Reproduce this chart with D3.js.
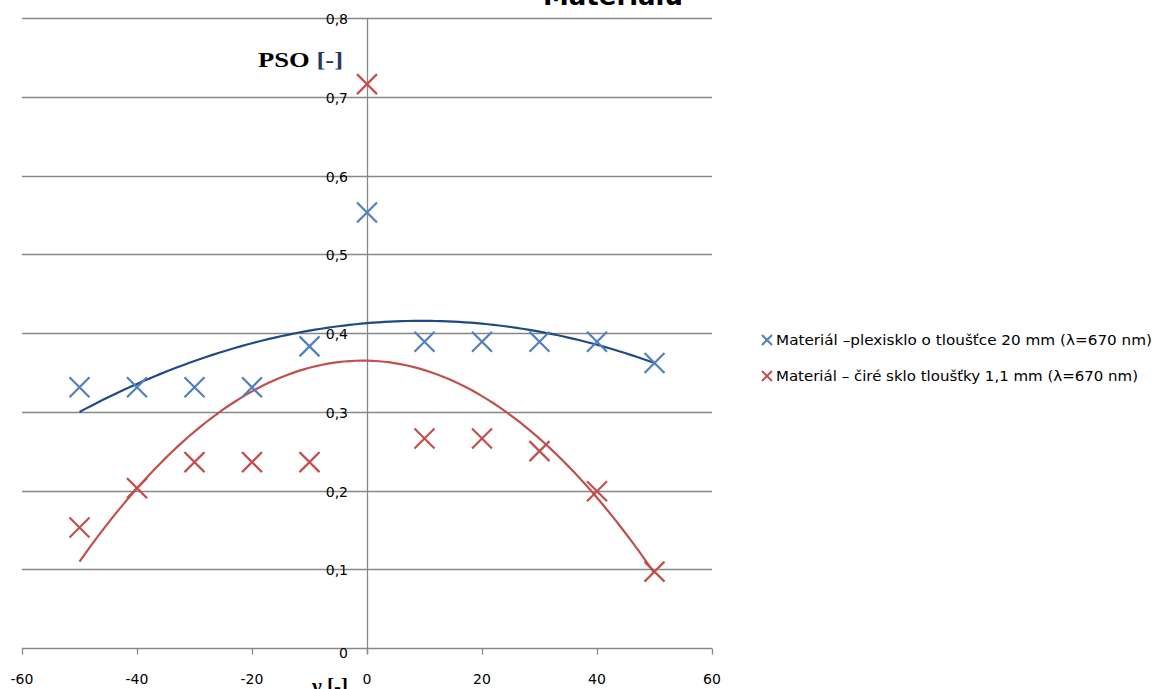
<!DOCTYPE html>
<html>
<head>
<meta charset="utf-8">
<script src="https://cdn.jsdelivr.net/npm/d3@7"></script>
<style>
  body { margin: 0; background: #fff; }
  svg { display: block; font-family: "DejaVu Sans", Verdana, sans-serif; }
</style>
</head>
<body>
<div id="chart"></div>
<script>
var svgWidth = 1153;
var svgHeight = 689;

// data
var angles = [-50, -40, -30, -20, -10, 0, 10, 20, 30, 40, 50];
var plexiValues = [0.331, 0.331, 0.331, 0.331, 0.383, 0.553, 0.389, 0.389, 0.389, 0.389, 0.362];
var glassValues = [0.153, 0.203, 0.236, 0.236, 0.236, 0.716, 0.266, 0.266, 0.250, 0.199, 0.097];
var xTicks = [-60, -40, -20, 0, 20, 40, 60];
var yTicks = [0, 0.1, 0.2, 0.3, 0.4, 0.5, 0.6, 0.7, 0.8];
var seriesNames = [
	"Materiál \u2013plexisklo o tloušťce 20 mm  (λ=670 nm)",
	"Materiál \u2013 čiré sklo tloušťky 1,1 mm  (λ=670 nm)"
];

var svg = d3.select("#chart")
	.append("svg")
	.attr("width", svgWidth)
	.attr("height", svgHeight);

var x = d3.scaleLinear().domain([-60, 60]).range([22, 712]);
var y = d3.scaleLinear().domain([0, 0.8]).range([648, 18]);

var fmt = function(d) { return d === 0 ? "0" : d3.format(".1f")(d).replace(".", ","); };

// gridlines
svg.append("g")
	.selectAll("line")
	.data(yTicks)
	.enter()
	.append("line")
	.attr("x1", x(-60))
	.attr("x2", x(60))
	.attr("y1", d => Math.round(y(d)) + 0.5)
	.attr("y2", d => Math.round(y(d)) + 0.5)
	.attr("stroke", "#878787")
	.attr("stroke-width", 1.3);

// x axis with ticks downward
var xAxis = svg.append("g")
	.attr("transform", `translate(0, ${Math.round(y(0)) + 0.5})`)
	.call(d3.axisBottom(x).tickValues(xTicks).tickSize(6).tickSizeOuter(0).tickFormat(""));
xAxis.select(".domain").remove();
xAxis.selectAll("line").attr("stroke", "#878787").attr("stroke-width", 1.3);

svg.append("g")
	.selectAll("text")
	.data(xTicks)
	.enter()
	.append("text")
	.attr("x", d => x(d))
	.attr("y", 684)
	.attr("text-anchor", "middle")
	.attr("font-size", 14)
	.attr("fill", "#000")
	.text(d => d);

// y axis at x = 0
svg.append("line")
	.attr("x1", Math.round(x(0)) + 0.5)
	.attr("x2", Math.round(x(0)) + 0.5)
	.attr("y1", y(0.8))
	.attr("y2", y(0) + 6)
	.attr("stroke", "#878787")
	.attr("stroke-width", 1.3);

svg.append("g")
	.selectAll("text")
	.data(yTicks)
	.enter()
	.append("text")
	.attr("x", 348)
	.attr("y", d => y(d) + (d === 0 ? 10 : 6))
	.attr("text-anchor", "end")
	.attr("font-size", 14)
	.attr("fill", "#000")
	.text(d => fmt(d));

// axis titles
var psoLabel = svg.append("text")
	.attr("x", 258)
	.attr("y", 67)
	.attr("font-family", "'Liberation Serif', serif")
	.attr("font-weight", "bold")
	.attr("font-size", 21)
	.attr("textLength", 85)
	.attr("lengthAdjust", "spacingAndGlyphs");
psoLabel.append("tspan").attr("fill", "#000").text("PSO ");
psoLabel.append("tspan").attr("fill", "#1f3a60").text("[-]");

svg.append("text")
	.attr("x", 312)
	.attr("y", 693)
	.attr("font-family", "'Liberation Serif', serif")
	.attr("font-weight", "bold")
	.attr("font-size", 21)
	.attr("textLength", 36)
	.attr("lengthAdjust", "spacingAndGlyphs")
	.text("γ [-]");

// chart title, cut off by the top edge
svg.append("text")
	.attr("x", 543)
	.attr("y", 5)
	.attr("font-weight", "bold")
	.attr("font-size", 26)
	.attr("textLength", 140)
	.attr("lengthAdjust", "spacingAndGlyphs")
	.attr("fill", "#000")
	.text("Materiálu");

// quadratic least-squares trend line, as the spreadsheet draws it
function quadFit(xs, ys) {
	var s = [0, 0, 0, 0, 0], t = [0, 0, 0];
	xs.forEach(function(xv, i) {
		for (var k = 0; k < 5; k++) s[k] += Math.pow(xv, k);
		for (var k = 0; k < 3; k++) t[k] += Math.pow(xv, k) * ys[i];
	});
	var m = [[s[0], s[1], s[2], t[0]], [s[1], s[2], s[3], t[1]], [s[2], s[3], s[4], t[2]]];
	for (var i = 0; i < 3; i++) {
		for (var j = i + 1; j < 3; j++) {
			var f = m[j][i] / m[i][i];
			for (var k = i; k < 4; k++) m[j][k] -= f * m[i][k];
		}
	}
	var c = [0, 0, 0];
	for (var i = 2; i >= 0; i--) {
		var v = m[i][3];
		for (var k = i + 1; k < 3; k++) v -= m[i][k] * c[k];
		c[i] = v / m[i][i];
	}
	return function(xv) { return c[0] + c[1] * xv + c[2] * xv * xv; };
}

var series = [
	{ values: plexiValues, marker: "#4f81bd", trend: "#1f4a85" },
	{ values: glassValues, marker: "#c0504d", trend: "#c0504d" }
];

var line = d3.line().x(d => x(d[0])).y(d => y(d[1]));

series.forEach(function(s) {
	var f = quadFit(angles, s.values);
	var pts = d3.range(angles[0], angles[angles.length - 1] + 0.5, 1).map(a => [a, f(a)]);
	svg.append("path")
		.attr("d", line(pts))
		.attr("fill", "none")
		.attr("stroke", s.trend)
		.attr("stroke-width", 2.2);
});

function crossPath(cx, cy, r) {
	return `M${cx - r},${cy - r}L${cx + r},${cy + r}M${cx - r},${cy + r}L${cx + r},${cy - r}`;
}

series.forEach(function(s) {
	svg.append("g")
		.selectAll("path")
		.data(s.values)
		.enter()
		.append("path")
		.attr("d", (d, i) => crossPath(x(angles[i]), y(d), 10))
		.attr("stroke", s.marker)
		.attr("stroke-width", 2.2)
		.attr("fill", "none");
});

// legend
var legendLengths = [376, 362];
var legend = svg.append("g");
seriesNames.forEach(function(name, i) {
	var ly = 340 + i * 36;
	legend.append("path")
		.attr("d", crossPath(767, ly, 5))
		.attr("stroke", series[i].marker)
		.attr("stroke-width", 2)
		.attr("fill", "none");
	legend.append("text")
		.attr("x", 776)
		.attr("y", ly + 5)
		.attr("font-size", 14)
		.attr("textLength", legendLengths[i])
		.attr("lengthAdjust", "spacingAndGlyphs")
		.attr("fill", "#000")
		.text(name);
});
</script>
</body>
</html>
